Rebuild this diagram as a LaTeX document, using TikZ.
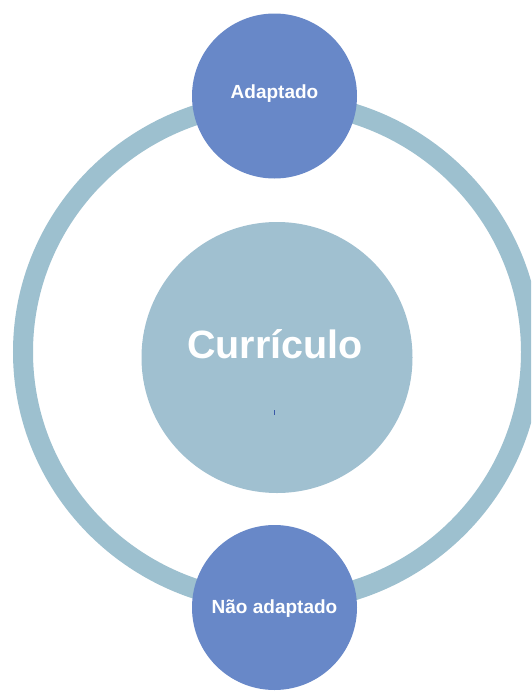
\documentclass[tikz,border=0pt]{standalone}
\usepackage{fontspec}
\setmainfont{Liberation Sans}
\definecolor{ringblue}{HTML}{9DC0CF}
\definecolor{coreblue}{HTML}{A0C0D0}
\definecolor{nodeblue}{HTML}{6888C8}
\definecolor{markblue}{HTML}{3A58A8}
\tikzset{
  smallcirc/.style={circle, fill=nodeblue, draw=none, minimum size=165pt, inner sep=0pt},
  bigcirc/.style={circle, fill=coreblue, draw=none, minimum size=271pt, inner sep=0pt},
  smalllabel/.style={text=white, font=\fontsize{19}{20}\selectfont\bfseries, anchor=base, inner sep=0pt},
  biglabel/.style={text=white, font=\fontsize{39.5}{40}\selectfont\bfseries, anchor=base, inner sep=0pt}
}
\begin{document}
\begin{tikzpicture}[x=1pt,y=-1pt]
\useasboundingbox (0,0) rectangle (531,691);
\fill[white] (0,0) rectangle (531,691);
\begin{scope}
\clip (0,0) rectangle (531,691);
\draw[ringblue, line width=20pt] (277,352) ellipse [x radius=254, y radius=250];
\end{scope}
\node[bigcirc] (core) at (277,357.5) {};
\node[biglabel] (coretext) at (275,358.5) {Currículo};
\draw[markblue, line width=1pt] (274.5,410) -- (274.5,415);
\node[smallcirc] (top) at (274.5,96) {};
\node[smalllabel] (toptext) at (274.5,98) {Adaptado};
\node[smallcirc] (bottom) at (274.5,607.5) {};
\node[smalllabel] (bottomtext) at (274.5,613) {Não adaptado};
\end{tikzpicture}
\end{document}
